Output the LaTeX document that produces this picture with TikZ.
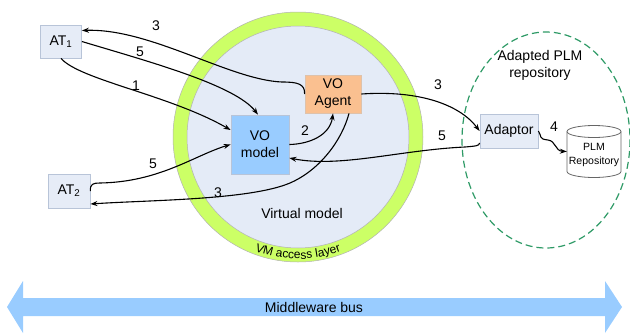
\documentclass[tikz,border=0pt]{standalone}
\usepackage{fontspec}
\setmainfont{Liberation Sans}
\usetikzlibrary{arrows.meta,calc,decorations.text}
\definecolor{boxfill}{HTML}{E6ECF7}
\definecolor{boxline}{HTML}{B8C4D8}
\definecolor{vofill}{HTML}{99CCFF}
\definecolor{agentfill}{HTML}{FAC090}
\definecolor{ringgreen}{HTML}{CCFF66}
\definecolor{innerfill}{HTML}{E4EBF7}
\definecolor{dashgreen}{HTML}{2E9A66}
\definecolor{busfill}{HTML}{99CCFF}
\tikzset{
 box/.style={draw=boxline, line width=0.8pt, fill=boxfill, inner sep=0pt, align=center},
 conn/.style={line width=1.1pt, -{Stealth[length=7pt,width=5pt]}},
 num/.style={inner sep=0pt},
}
\begin{document}
\begin{tikzpicture}[x=1pt,y=-1pt,font=\fontsize{14}{17}\selectfont]
\useasboundingbox (0,0) rectangle (630,333);
% middleware bus
\fill[busfill] (7,307) -- (23,281) -- (23,298) -- (605,298) -- (605,281) -- (622,307)
  -- (605,333) -- (605,316) -- (23,316) -- (23,333) -- cycle;
\node (bus) at (314,307) {Middleware bus};
% virtual model ring
\filldraw[fill=ringgreen, draw=gray!60, line width=0.5pt] (298,137) circle[radius=125];
\filldraw[fill=innerfill, draw=gray!60, line width=0.5pt] (298,137) circle[radius=111];
\path[decorate, decoration={text along path, text={|\fontsize{12}{14}\selectfont|VM access layer}, text align=center}]
  ($(298,137)+(120:122)$) arc[start angle=120, end angle=60, radius=122];
\node (vm) at (302,213) {Virtual model};
% adapted PLM repository
\draw[dashgreen, line width=1.2pt, dash pattern=on 7pt off 4pt] (546,140) ellipse[x radius=84, y radius=108];
\node[align=center] (apr) at (540,65) {Adapted PLM\\repository};
% nodes
\node[box, minimum width=41pt, minimum height=33pt] (at1) at (61,41.5) {AT\textsubscript{1}};
\node[box, minimum width=42pt, minimum height=34pt] (at2) at (69,191) {AT\textsubscript{2}};
\node[box, fill=vofill, minimum width=58pt, minimum height=59pt] (vom) at (260,144.5) {VO\\model};
\node[box, fill=agentfill, draw=agentfill!80!black!60, minimum width=56pt, minimum height=38pt] (agent) at (333,94) {VO\\Agent};
\node[box, minimum width=58pt, minimum height=34pt] (adaptor) at (509,131) {Adaptor};
% cylinder
\node[minimum width=54pt, minimum height=53pt, inner sep=0pt] (cyl) at (594,151.5) {};
\filldraw[fill=white, draw=gray!80!black, line width=0.8pt]
  (567,131.5) -- (567,171.5) arc[start angle=180, end angle=0, x radius=27, y radius=6] -- (621,131.5);
\filldraw[fill=white, draw=gray!80!black, line width=0.8pt] (594,131.5) ellipse[x radius=27, y radius=6];
\node[align=center, font=\fontsize{10.5}{14}\selectfont] (cyltext) at (594,155) {PLM\\Repository};
% connectors
\draw[conn] (agent.west) .. controls (305,84) and (298,82) .. (282,82)
  .. controls (230,80) and (150,28) .. ([yshift=11pt]at1.east);
\draw[conn] (at1.east) .. controls (150,62) and (235,85) .. ([xshift=-2pt]vom.north);
\draw[conn] (at1.south) .. controls (80,80) and (170,95) .. ([yshift=14.5pt]vom.west);
\draw[conn] (at2.east) .. controls (90,184) and (93,183) .. (100,183)
  .. controls (160,182) and (195,155) .. (vom.west);
\draw[conn] ([xshift=16pt]agent.south) .. controls (342,140) and (320,170) .. (290,183)
  .. controls (250,200) and (150,200) .. ([yshift=-13pt]at2.east);
\draw[conn] (vom.east) .. controls (310,144) and (330,135) .. (agent.south);
\draw[conn] (agent.east) .. controls (420,90) and (460,105) .. (adaptor.west);
\draw[conn] ([yshift=-12pt]adaptor.west) .. controls (479,146) and (476,146) .. (465,147)
  .. controls (400,150) and (340,168) .. ([yshift=-13.5pt]vom.east);
\draw[conn] (adaptor.east) .. controls (542,136) and (538,139) .. (548,140)
  .. controls (556,141) and (555,151) .. (cyl.180);
% labels
\node[num] (n1) at (156,26) {3};
\node[num] (n2) at (140,52) {5};
\node[num] (n3) at (136,86) {1};
\node[num] (n4) at (153,164) {5};
\node[num] (n5) at (218,193) {3};
\node[num] (n6) at (305,131) {2};
\node[num] (n7) at (438,85) {3};
\node[num] (n8) at (442,136) {5};
\node[num] (n9) at (554,127) {4};
\end{tikzpicture}
\end{document}
